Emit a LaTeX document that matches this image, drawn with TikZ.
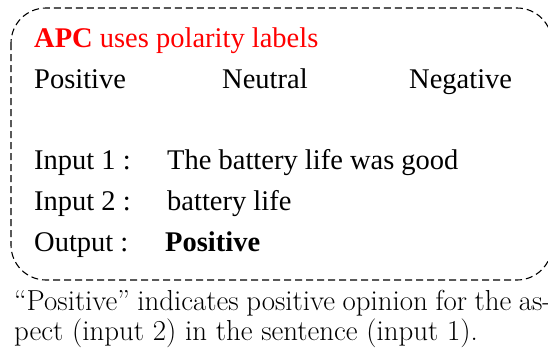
\documentclass[tikz,border=0pt]{standalone}
\usepackage{fontspec}
\newfontfamily\boxfont{Liberation Serif}
\definecolor{apcred}{RGB}{255,0,0}
\tikzset{
  boxtext/.style={anchor=base west, inner sep=0pt, font=\boxfont\fontsize{28.5}{34}\selectfont},
  captext/.style={anchor=base west, inner sep=0pt, font=\fontsize{28.9}{31}\selectfont},
  frame/.style={draw=black, line width=1.1pt, dash pattern=on 7pt off 4pt, rounded corners=35pt}
}
\begin{document}
\begin{tikzpicture}[x=1pt,y=-1pt]
\clip (0,0) rectangle (548,351);
\draw[frame] (11,8) rectangle (552,280);
\node[boxtext, text=apcred] (title) at (34,47) {\textbf{APC} uses polarity labels};
\node[boxtext] (pos) at (34,88) {Positive};
\node[boxtext] (neu) at (222,88) {Neutral};
\node[boxtext] (neg) at (409,88) {Negative};
\node[boxtext] (in1l) at (34,169) {Input 1 :};
\node[boxtext] (in1v) at (167,169) {The battery life was good};
\node[boxtext] (in2l) at (34,210) {Input 2 :};
\node[boxtext] (in2v) at (167,210) {battery life};
\node[boxtext] (outl) at (34,251) {Output :};
\node[boxtext] (outv) at (165,251) {\textbf{Positive}};
\node[captext] (cap1) at (14,310) {\makebox[537pt][s]{“Positive” indicates positive opinion for the as-}};
\node[captext] (cap2) at (14,340) {pect (input 2) in the sentence (input 1).};
\end{tikzpicture}
\end{document}
